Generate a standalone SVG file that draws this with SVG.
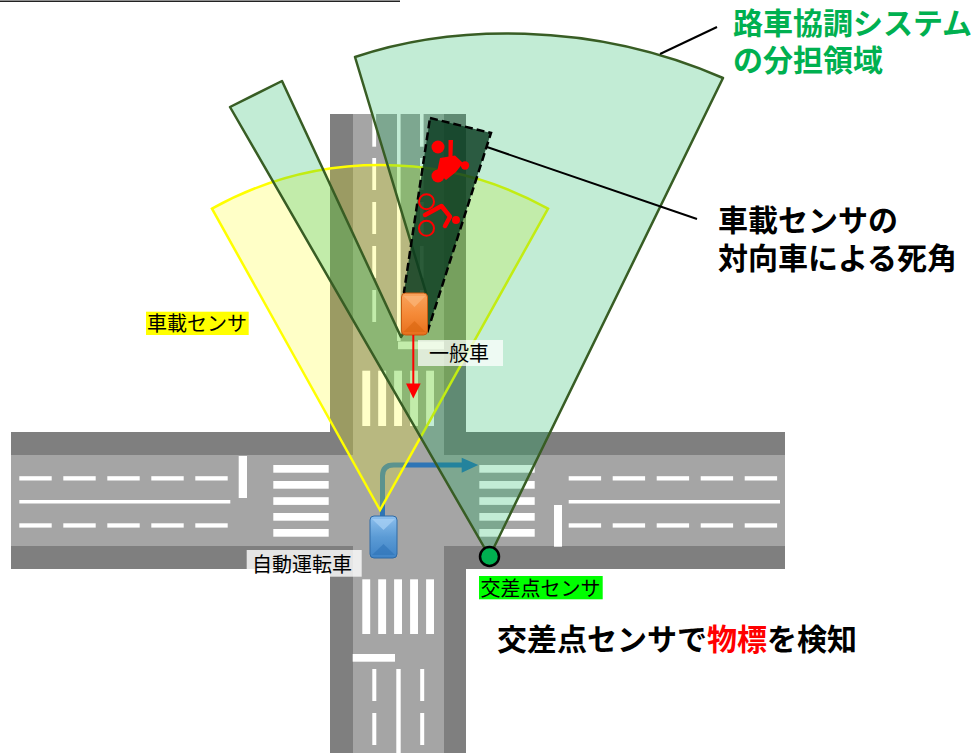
<svg xmlns="http://www.w3.org/2000/svg" width="979" height="753" viewBox="0 0 979 753">
  <defs>
    <style>
      .walk { fill: #7f7f7f; }
      .lane { fill: #a5a5a5; }
      .mark { fill: #ffffff; }
      .jp { font-family: "Noto Sans CJK JP", "Noto Sans", sans-serif; }
      .big { font-size: 30px; font-weight: bold; }
      .small { font-size: 20px; fill: #000000; }
      .leader { stroke: #000000; stroke-width: 2; fill: none; }
      .rsu-area { fill: #00b050; fill-opacity: 0.24; stroke: #385d24; stroke-width: 2.5; stroke-linejoin: round; }
      .car-area { fill: #ffff00; fill-opacity: 0.22; stroke: #ffff00; stroke-width: 2.5; }
      .blind { fill: #0a3a20; fill-opacity: 0.82; stroke: #000000; stroke-width: 2.5; stroke-dasharray: 8 4; }
      .red { fill: #ff0000; }
    </style>
    <linearGradient id="orangeBody" x1="0" y1="0" x2="0" y2="1">
      <stop offset="0" stop-color="#f9a45e"/>
      <stop offset="0.5" stop-color="#f58a38"/>
      <stop offset="1" stop-color="#e7701c"/>
    </linearGradient>
    <linearGradient id="blueBody" x1="0" y1="0" x2="0" y2="1">
      <stop offset="0" stop-color="#8ec0ee"/>
      <stop offset="0.5" stop-color="#5b9bd5"/>
      <stop offset="1" stop-color="#3f83c6"/>
    </linearGradient>
  </defs>

  <!-- header rule -->
  <line x1="0" y1="1.2" x2="400" y2="1.2" stroke="#222222" stroke-width="1.5"/>

  <!-- road network -->
  <g id="roads">
    <rect class="walk" x="11" y="432" width="774" height="137"/>
    <rect class="walk" x="330" y="114" width="136" height="639"/>
    <rect class="lane" x="11" y="455" width="774" height="91"/>
    <rect class="lane" x="353" y="114" width="91" height="639"/>

    <!-- west arm -->
    <g class="mark">
      <rect x="19.3" y="476.2" width="32.4" height="4.3"/>
      <rect x="63.3" y="476.2" width="32.4" height="4.3"/>
      <rect x="107.3" y="476.2" width="32.4" height="4.3"/>
      <rect x="151.3" y="476.2" width="32.4" height="4.3"/>
      <rect x="195.3" y="476.2" width="32.4" height="4.3"/>
      <rect x="19.3" y="500" width="211" height="3.5"/>
      <rect x="19.3" y="523.3" width="32.4" height="4.3"/>
      <rect x="63.3" y="523.3" width="32.4" height="4.3"/>
      <rect x="107.3" y="523.3" width="32.4" height="4.3"/>
      <rect x="151.3" y="523.3" width="32.4" height="4.3"/>
      <rect x="195.3" y="523.3" width="32.4" height="4.3"/>
      <rect x="238.7" y="456" width="8.3" height="42"/>
      <!-- crosswalk -->
      <rect x="273.3" y="465" width="55.4" height="7.7"/>
      <rect x="273.3" y="481" width="55.4" height="7.7"/>
      <rect x="273.3" y="497.2" width="55.4" height="7.7"/>
      <rect x="273.3" y="513" width="55.4" height="7.7"/>
      <rect x="273.3" y="529" width="55.4" height="7.7"/>
    </g>

    <!-- east arm -->
    <g class="mark">
      <rect x="568.7" y="476.2" width="32.4" height="4.3"/>
      <rect x="612.7" y="476.2" width="32.4" height="4.3"/>
      <rect x="656.7" y="476.2" width="32.4" height="4.3"/>
      <rect x="700.7" y="476.2" width="32.4" height="4.3"/>
      <rect x="744.7" y="476.2" width="32.4" height="4.3"/>
      <rect x="568.7" y="500" width="211.3" height="3.5"/>
      <rect x="568.7" y="523.3" width="32.4" height="4.3"/>
      <rect x="612.7" y="523.3" width="32.4" height="4.3"/>
      <rect x="656.7" y="523.3" width="32.4" height="4.3"/>
      <rect x="700.7" y="523.3" width="32.4" height="4.3"/>
      <rect x="744.7" y="523.3" width="32.4" height="4.3"/>
      <rect x="554" y="505" width="8" height="41.7"/>
      <!-- crosswalk -->
      <rect x="479.3" y="465" width="55.4" height="7.7"/>
      <rect x="479.3" y="481" width="55.4" height="7.7"/>
      <rect x="479.3" y="497.2" width="55.4" height="7.7"/>
      <rect x="479.3" y="513" width="55.4" height="7.7"/>
      <rect x="479.3" y="529" width="55.4" height="7.7"/>
    </g>

    <!-- north arm -->
    <g class="mark">
      <rect x="372.3" y="114" width="3.8" height="32.7"/>
      <rect x="372.3" y="158" width="3.8" height="32"/>
      <rect x="372.3" y="202" width="3.8" height="32"/>
      <rect x="372.3" y="246" width="3.8" height="32"/>
      <rect x="372.3" y="290" width="3.8" height="32"/>
      <rect x="397" y="114" width="3.6" height="227"/>
      <rect x="420" y="114" width="3.6" height="32.7"/>
      <rect x="420" y="158" width="3.6" height="32"/>
      <rect x="420" y="202" width="3.6" height="32"/>
      <rect x="420" y="246" width="3.6" height="32"/>
      <rect x="420" y="290" width="3.6" height="32"/>
      <rect x="398" y="341.5" width="46" height="7.7"/>
      <!-- crosswalk -->
      <rect x="362.3" y="370.7" width="7.9" height="55.3"/>
      <rect x="378.2" y="370.7" width="7.9" height="55.3"/>
      <rect x="394.1" y="370.7" width="7.9" height="55.3"/>
      <rect x="410.1" y="370.7" width="7.9" height="55.3"/>
      <rect x="426.1" y="370.7" width="7.9" height="55.3"/>
    </g>

    <!-- south arm -->
    <g class="mark">
      <rect x="362.3" y="579.3" width="7.9" height="54.7"/>
      <rect x="378.2" y="579.3" width="7.9" height="54.7"/>
      <rect x="394.1" y="579.3" width="7.9" height="54.7"/>
      <rect x="410.1" y="579.3" width="7.9" height="54.7"/>
      <rect x="426.1" y="579.3" width="7.9" height="54.7"/>
      <rect x="352.7" y="654" width="42.3" height="7.7"/>
      <rect x="372.3" y="669" width="4" height="32"/>
      <rect x="372.3" y="713" width="4" height="32"/>
      <rect x="396.3" y="669" width="4.4" height="84"/>
      <rect x="420.2" y="669" width="4" height="32"/>
      <rect x="420.2" y="713" width="4" height="32"/>
    </g>
  </g>

  <!-- planned path of the automated vehicle -->
  <g id="planned-path">
    <path d="M382.5,516 L382.5,476 Q382.5,465 393.5,465 L463,465" fill="none" stroke="#2e75b6" stroke-width="5"/>
    <polygon points="461.7,457.8 478.3,465 461.7,472.8" fill="#2e75b6"/>
  </g>

  <!-- on-board sensor field of view -->
  <g id="onboard-sensor-area">
    <path class="car-area" d="M380,510 L212,208.7 A345,345 0 0,1 548,208.7 Z"/>
  </g>

  <!-- roadside (cooperative) sensor coverage -->
  <g id="cooperative-area">
    <path class="rsu-area" d="M489.5,556.5 L230,107 L282,81 L401,337 L427,296 L355,57 C450,25 590,20 723,78 Z"/>
  </g>

  <!-- blind spot behind the oncoming vehicle -->
  <g id="blind-spot">
    <polygon class="blind" points="430,118 491,133 428,330 404,292"/>
  </g>

  <!-- hidden road users -->
  <g id="motorcycle" class="red">
    <circle cx="438" cy="147" r="6.5"/>
    <circle cx="438" cy="176" r="6.5"/>
    <circle cx="465" cy="165.5" r="4.2"/>
    <polygon points="448.5,140 453,140 452.5,157 448.5,157"/>
    <polygon points="440,158 455,155.5 463,163 456,172 446,180 437,172"/>
  </g>
  <g id="bicycle">
    <circle cx="426.5" cy="201.7" r="7.5" fill="none" stroke="#ff0000" stroke-width="2"/>
    <circle cx="426.5" cy="228.3" r="7.5" fill="none" stroke="#ff0000" stroke-width="2"/>
    <path d="M425,215 L441.5,206 L450,216.7 L445,226" fill="none" stroke="#ff0000" stroke-width="4.5" stroke-linecap="round" stroke-linejoin="round"/>
    <circle cx="456" cy="220" r="4" fill="#ff0000"/>
  </g>

  <!-- oncoming ordinary vehicle -->
  <g id="ordinary-vehicle">
    <rect x="401.5" y="293" width="26" height="42" rx="4" fill="url(#orangeBody)" stroke="#c55a11" stroke-width="1"/>
    <polygon points="403.5,296 425.5,296 414.5,307" fill="#fbb77a" opacity="0.7"/>
    <polygon points="403.5,332 425.5,332 414.5,321" fill="#d9650f" opacity="0.6"/>
  </g>

  <!-- automated vehicle -->
  <g id="automated-vehicle">
    <rect x="370" y="516" width="27" height="42" rx="4" fill="url(#blueBody)" stroke="#2e6aa6" stroke-width="1"/>
    <polygon points="372,519 395,519 383.5,530" fill="#a9d1f5" opacity="0.7"/>
    <polygon points="372,555 395,555 383.5,544" fill="#2f73b8" opacity="0.6"/>
  </g>

  <!-- roadside sensor -->
  <g id="intersection-sensor">
    <circle cx="489.5" cy="556.5" r="9.5" fill="#00b050" stroke="#000000" stroke-width="2.5"/>
  </g>

  <!-- leaders and travel arrow -->
  <g id="connectors">
    <line class="leader" x1="660" y1="54" x2="717" y2="27"/>
    <line class="leader" x1="487" y1="147" x2="697" y2="219"/>
    <line x1="413.3" y1="335" x2="413.3" y2="385" stroke="#ff0000" stroke-width="2"/>
    <polygon points="406,383.5 420.7,383.5 413.3,398.5" fill="#ff0000"/>
  </g>

  <!-- labels -->
  <g id="label-cooperative" class="jp big" fill="#00b050">
    <text x="733" y="34">路車協調システム</text>
    <text x="733" y="71">の分担領域</text>
  </g>
  <g id="label-blind" class="jp big" fill="#000000">
    <text x="718" y="231">車載センサの</text>
    <text x="718" y="269">対向車による死角</text>
  </g>
  <g id="label-onboard">
    <rect x="146" y="311.7" width="102.7" height="23.3" fill="#ffff00"/>
    <text class="jp small" x="147" y="331">車載センサ</text>
  </g>
  <g id="label-ordinary">
    <rect x="418" y="340" width="85" height="26" fill="#ffffff" fill-opacity="0.72"/>
    <text class="jp small" x="429" y="360.5">一般車</text>
  </g>
  <g id="label-automated">
    <rect x="246.7" y="550" width="115" height="26.7" fill="#ffffff" fill-opacity="0.8"/>
    <text class="jp small" x="252" y="571.5" font-size="21">自動運転車</text>
  </g>
  <g id="label-sensor">
    <rect x="479" y="576" width="123.7" height="23.3" fill="#00ff00"/>
    <text class="jp small" x="480.5" y="595.5">交差点センサ</text>
  </g>
  <g id="label-detect">
    <text class="jp big" x="497" y="650" fill="#000000">交差点センサで<tspan fill="#ff0000">物標</tspan>を検知</text>
  </g>
</svg>
